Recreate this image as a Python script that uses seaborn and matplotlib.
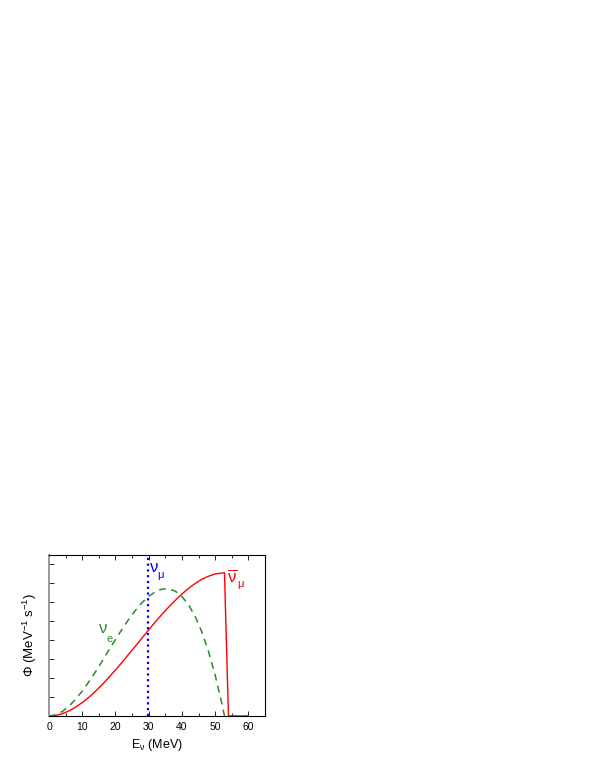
import numpy as np
import pandas as pd
import seaborn as sns
import matplotlib.pyplot as plt

# energies (MeV) and flux values (arbitrary units)
energy = [0, 2, 4, 6, 8, 10, 12, 14, 16, 18, 20, 22, 24, 26, 28, 30, 32, 34,
          36, 38, 40, 42, 44, 46, 48, 50, 52, 52.8, 54, 60]
flux_numubar = [0, 0.03, 0.12, 0.27, 0.47, 0.71, 0.99, 1.31, 1.66, 2.04, 2.43,
                2.84, 3.27, 3.69, 4.12, 4.55, 4.97, 5.37, 5.75, 6.11, 6.44,
                6.74, 7.00, 7.22, 7.38, 7.50, 7.55, 7.56, 0, 0]
energy_nue = [0, 2, 4, 6, 8, 10, 12, 14, 16, 18, 20, 22, 24, 26, 28, 30, 32,
              34, 36, 38, 40, 42, 44, 46, 48, 50, 52, 52.8, 60]
flux_nue = [0, 0.06, 0.24, 0.52, 0.88, 1.32, 1.81, 2.34, 2.90, 3.48, 4.04,
            4.59, 5.11, 5.58, 5.99, 6.32, 6.56, 6.70, 6.71, 6.59, 6.31, 5.87,
            5.25, 4.43, 3.41, 2.16, 0.67, 0, 0]
numu_energy = 29.8  # monoenergetic line

sns.set_style('ticks')
plt.rcParams['font.family'] = ['Liberation Sans', 'DejaVu Sans']
plt.rcParams['mathtext.fontset'] = 'custom'
plt.rcParams['mathtext.rm'] = 'Liberation Sans'
plt.rcParams['mathtext.it'] = 'Liberation Sans'
plt.rcParams['mathtext.sf'] = 'Liberation Sans'
plt.rcParams['text.color'] = 'black'
plt.rcParams['axes.labelcolor'] = 'black'
plt.rcParams['xtick.color'] = 'black'
plt.rcParams['ytick.color'] = 'black'

df_mu = pd.DataFrame({'E': energy, 'phi': flux_numubar})
df_e = pd.DataFrame({'E': energy_nue, 'phi': flux_nue})

fig = plt.figure(figsize=(5.95, 7.7), dpi=100)
ax = fig.add_axes([0.0824, 0.0701, 0.363, 0.2091])

sns.lineplot(data=df_mu, x='E', y='phi', ax=ax, color='red', lw=1.0,
             sort=False, estimator=None)
sns.lineplot(data=df_e, x='E', y='phi', ax=ax, color='#2a8a2a', lw=1.1,
             sort=False, estimator=None, dashes=False, linestyle=(0, (4.5, 3.5)))
ax.axvline(numu_energy, ymin=0, ymax=1, color='blue', lw=1.6,
           linestyle=(0, (1, 1.6)))

ax.set_xlim(0, 65)
ax.set_ylim(0, 8.5)
ax.set_xticks(range(0, 61, 10))
ax.set_xticks(range(0, 66, 5), minor=True)
ax.set_yticks(range(0, 9))
ax.set_yticklabels([])
ax.tick_params(axis='both', which='both', direction='in', labelsize=7.5,
               top=True, right=False, width=0.6, pad=4)
ax.tick_params(axis='both', which='major', length=3.5)
ax.tick_params(axis='both', which='minor', length=2.5)
ax.tick_params(axis='x', which='major', labeltop=False)

for side in ['top', 'right', 'bottom']:
    ax.spines[side].set_linewidth(0.8)
    ax.spines[side].set_color('black')
ax.spines['left'].set_linewidth(1.4)
ax.spines['left'].set_color('#999999')

ax.set_xlabel(r'E$_\nu$ (MeV)', fontsize=9, labelpad=4)
ax.set_ylabel(r'$\Phi$ (MeV$^{-1}$ s$^{-1}$)', fontsize=9.5, labelpad=3)

# particle labels: big nu plus a smaller, lowered subscript
ax.text(30.4, 7.58, 'ν', color='blue', fontsize=12)
ax.text(32.5, 7.3, 'μ', color='blue', fontsize=8)
ax.text(53.5, 7.05, r'$\overline{\nu}$', color='red', fontsize=12)
ax.text(56.6, 6.8, 'μ', color='red', fontsize=8)
ax.text(15.0, 4.37, 'ν', color='#2a8a2a', fontsize=12)
ax.text(17.3, 3.9, 'e', color='#2a8a2a', fontsize=8)

fig.savefig('out.png', dpi=100)
